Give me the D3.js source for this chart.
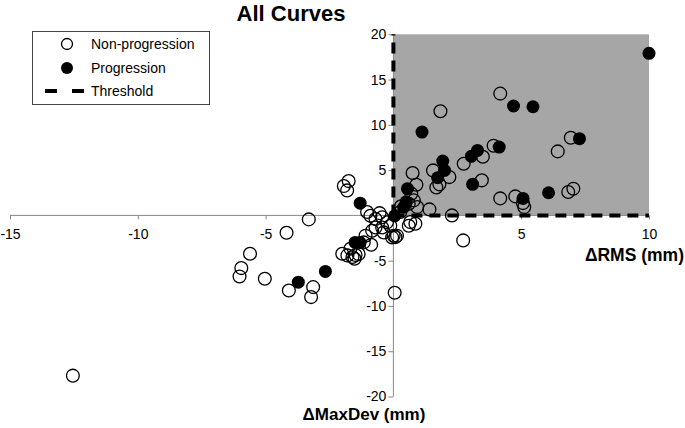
<!DOCTYPE html>
<html><head><meta charset="utf-8">
<script src="https://cdn.jsdelivr.net/npm/d3@7"></script>
<style>body{margin:0;background:#fff}svg{display:block}text{font-family:"Liberation Sans",Arial,sans-serif}</style>
</head><body>
<script>
const xTicks = [-15, -10, -5, 5, 10];
const yTicks = [-20, -15, -10, -5, 5, 10, 15, 20];
const progression = [
  [-3.72,-7.37],[-2.66,-6.19],[-1.5,-2.98],[-1.3,-3.0],[-1.3,1.35],[0.05,-0.05],[0.4,0.9],
  [0.5,1.5],[0.55,2.95],[1.12,9.2],[1.73,4.16],[2.0,4.97],[1.93,6.0],[3.05,6.52],[3.29,7.18],
  [4.14,7.55],[3.10,3.43],[4.70,12.08],[5.46,12.0],[5.07,1.88],[6.07,2.5],[7.28,8.47],[10.0,17.9]
];
const nonProgression = [
  [-12.54,-17.7],[-5.61,-4.24],[-5.95,-5.82],[-6.02,-6.74],[-5.03,-7.0],[-4.18,-1.91],[-3.31,-0.44],
  [-4.09,-8.29],[-3.14,-7.92],[-3.22,-9.02],[0.05,-8.54],[2.73,-2.76],
  [-1.94,3.24],[-1.75,3.79],[-1.81,2.76],[-1.03,0.37],[-0.54,0.25],
  [-0.9,-0.04],[-0.7,-0.4],[-0.44,-0.2],[-0.25,-0.77],[-0.7,-1.33],[-0.44,-1.33],[-0.12,-1.14],
  [-0.83,-1.69],[-0.38,-1.88],[0.01,-2.24],[-0.05,-2.43],[-1.09,-2.24],[-1.16,-2.98],[-0.87,-3.24],
  [-1.68,-3.68],[-2.0,-4.23],[-1.8,-4.42],[-1.6,-4.6],[-1.52,-4.79],[-1.48,-4.38],[-1.36,-4.27],
  [0.66,-0.74],[0.86,-0.92],[0.6,-1.14],[0.14,-2.24],[0.08,-2.4],
  [0.27,0.37],[0.6,1.29],[0.8,1.66],[0.7,2.4],[0.93,0.92],[0.3,1.0],
  [0.75,4.68],[0.9,3.39],[1.55,4.97],[2.19,4.23],[1.80,3.43],[1.68,3.09],[1.41,0.66],[2.29,0.0],
  [4.18,13.45],[1.84,11.5],[6.94,8.58],[6.43,7.07],[3.92,7.7],[3.50,6.48],[2.75,5.71],[3.46,3.87],
  [4.18,1.88],[4.77,2.1],[5.07,1.36],[5.12,0.92],[6.84,2.58],[7.04,2.95]
];
const thresholdRegion = {x0: 0, x1: 10, y0: 0, y1: 20};

const W = 685, H = 428;
const svg = d3.select("body").append("svg").attr("width", W).attr("height", H);
const x = d3.scaleLinear().domain([-15, 10]).range([10, 649]);
const y = d3.scaleLinear().domain([-20, 20]).range([396.5, 34.3]);

svg.append("rect")
  .attr("x", x(thresholdRegion.x0)).attr("y", y(thresholdRegion.y1))
  .attr("width", x(thresholdRegion.x1) - x(thresholdRegion.x0))
  .attr("height", y(thresholdRegion.y0) - y(thresholdRegion.y1))
  .attr("fill", "#a6a6a6");

const xAxis = d3.axisBottom(x).tickValues(xTicks).tickSize(4);
const gx = svg.append("g").attr("transform", `translate(0,${y(0)})`).call(xAxis);
gx.select(".domain").attr("stroke", "#888").attr("d", `M${x(-15)},0H${x(10)}`);
gx.selectAll(".tick line").attr("stroke", "#888");
gx.selectAll(".tick text").attr("font-size", 14).attr("fill", "#000").attr("dy", "1.2em")
  .text(d => d < 0 ? "-" + Math.abs(d) : d);

const yAxis = d3.axisLeft(y).tickValues(yTicks).tickSize(5);
const gy = svg.append("g").attr("transform", `translate(${x(0)},0)`).call(yAxis);
gy.select(".domain").attr("stroke", "#888").attr("d", `M0,${y(-20)}V${y(20)}`);
gy.selectAll(".tick line").attr("stroke", "#888");
gy.selectAll(".tick text").attr("font-size", 14).attr("fill", "#000").attr("x", -7)
  .text(d => d < 0 ? "-" + Math.abs(d) : d);

const line = d3.line().x(d => x(d[0])).y(d => y(d[1]));
svg.append("path").attr("d", line([[0, 0], [0, 20]]))
  .attr("stroke", "#000").attr("stroke-width", 4).attr("stroke-dasharray", "11,7").attr("fill", "none");
svg.append("path").attr("d", line([[0, 0], [10, 0]]))
  .attr("stroke", "#000").attr("stroke-width", 4).attr("stroke-dasharray", "11,7").attr("fill", "none");

svg.append("g").selectAll("circle").data(nonProgression).join("circle")
  .attr("cx", d => x(d[0])).attr("cy", d => y(d[1])).attr("r", 6.4)
  .attr("fill", "none").attr("stroke", "#000").attr("stroke-width", 1.3);
svg.append("g").selectAll("circle").data(progression).join("circle")
  .attr("cx", d => x(d[0])).attr("cy", d => y(d[1])).attr("r", 6.5)
  .attr("fill", "#000");

svg.append("text").attr("x", 291).attr("y", 21).attr("text-anchor", "middle")
  .attr("font-size", 22).attr("font-weight", "bold").text("All Curves");
svg.append("text").attr("x", 684).attr("y", 261).attr("text-anchor", "end")
  .attr("font-size", 17.5).attr("font-weight", "bold").text("ΔRMS (mm)");
svg.append("text").attr("x", 364).attr("y", 420).attr("text-anchor", "middle")
  .attr("font-size", 17).attr("font-weight", "bold").text("ΔMaxDev (mm)");

const lg = svg.append("g");
lg.append("rect").attr("x", 32.5).attr("y", 31.5).attr("width", 177).attr("height", 73)
  .attr("fill", "#fff").attr("stroke", "#444").attr("stroke-width", 1);
lg.append("circle").attr("cx", 67).attr("cy", 44).attr("r", 5.5).attr("fill", "none").attr("stroke", "#000").attr("stroke-width", 1.3);
lg.append("circle").attr("cx", 67).attr("cy", 68).attr("r", 6).attr("fill", "#000");
lg.append("line").attr("x1", 45).attr("x2", 84).attr("y1", 91).attr("y2", 91)
  .attr("stroke", "#000").attr("stroke-width", 4).attr("stroke-dasharray", "12,15");
const labels = ["Non-progression", "Progression", "Threshold"];
lg.selectAll("text.l").data(labels).join("text").attr("class", "l")
  .attr("x", 91).attr("y", (d, i) => 49 + i * 23.5).attr("font-size", 14).text(d => d);
</script>
</body></html>
